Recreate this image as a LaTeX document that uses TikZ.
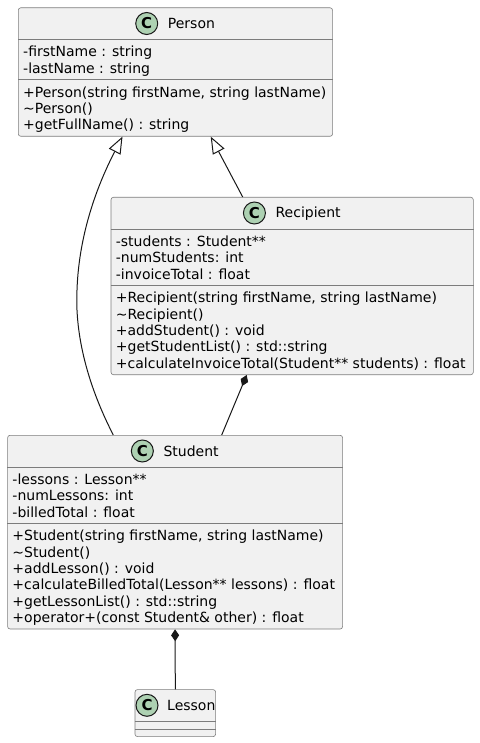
\documentclass[tikz,border=0pt]{standalone}
\usepackage{fontspec}
\setmainfont{DejaVu Sans}
\usepackage{tikz}
\usetikzlibrary{arrows.meta, positioning, calc}
\definecolor{boxfill}{HTML}{F1F1F1}
\definecolor{boxline}{HTML}{7C7C7C}
\definecolor{umlline}{HTML}{181818}
\definecolor{spotgreen}{HTML}{ADD1B2}

\begin{document}
\begin{tikzpicture}[
    x=1pt, y=-1pt,
    font=\fontsize{14}{16.3}\selectfont,
    classbox/.style={rectangle, draw=boxline, line width=0.6pt, fill=boxfill, rounded corners=2.5pt, anchor=north west, inner sep=0pt},
    divider/.style={draw=boxline, line width=0.6pt},
    member/.style={anchor=base west, inner sep=0pt},
    cname/.style={anchor=base, inner sep=0pt},
    spot/.style={circle, draw=umlline, line width=1pt, fill=spotgreen, minimum size=22pt, inner sep=0pt, font=\fontsize{15}{16}\selectfont\bfseries},
    extends/.style={-{Triangle[open, length=17pt, width=13pt]}, line width=1pt, draw=umlline},
    composed/.style={{Diamond[length=12pt, width=8pt]}-, line width=1pt, draw=umlline}
]
\useasboundingbox (0,0) rectangle (479,743);

% class boxes
\node[classbox, minimum width=314.3pt, minimum height=128.5pt] (person) at (18,7.5) {};
\node[classbox, minimum width=362.3pt, minimum height=177.4pt] (recipient) at (110.7,197) {};
\node[classbox, minimum width=335pt, minimum height=193.7pt] (student) at (7.3,435) {};
\node[classbox, minimum width=80.6pt, minimum height=47pt] (lesson) at (134.7,689.3) {};

% compartments
\draw[divider] ($(person.north west)+(0,32)$) -- ($(person.north east)+(0,32)$);
\draw[divider] ($(person.north west)+(0,72.1)$) -- ($(person.north east)+(0,72.1)$);
\draw[divider] ($(recipient.north west)+(0,32)$) -- ($(recipient.north east)+(0,32)$);
\draw[divider] ($(recipient.north west)+(0,88.4)$) -- ($(recipient.north east)+(0,88.4)$);
\draw[divider] ($(student.north west)+(0,32)$) -- ($(student.north east)+(0,32)$);
\draw[divider] ($(student.north west)+(0,88.4)$) -- ($(student.north east)+(0,88.4)$);
\draw[divider] ($(lesson.north west)+(0,32)$) -- ($(lesson.north east)+(0,32)$);
\draw[divider] ($(lesson.north west)+(0,39.5)$) -- ($(lesson.north east)+(0,39.5)$);

% headers
\node[cname] (personName) at ($(person.north)+(16,21)$) {Person};
\node[spot] (personSpot) at ($(personName.base west)+(-21,-5)$) {C};
\node[cname] (recipientName) at ($(recipient.north)+(16,21)$) {Recipient};
\node[spot] (recipientSpot) at ($(recipientName.base west)+(-21,-5)$) {C};
\node[cname] (studentName) at ($(student.north)+(16,21)$) {Student};
\node[spot] (studentSpot) at ($(studentName.base west)+(-21,-5)$) {C};
\node[cname] (lessonName) at ($(lesson.north)+(16,21)$) {Lesson};
\node[spot] (lessonSpot) at ($(lessonName.base west)+(-20,-5)$) {C};

% members
\foreach \m [count=\i] in {-firstName : string, -lastName : string}
  \node[member] (pa\i) at ($(person.north west)+(5,{49.5+16.3*(\i-1)})$) {\m};
\foreach \m [count=\i] in {{+Person(string firstName, string lastName)}, \textasciitilde Person(), +getFullName() : string}
  \node[member] (pm\i) at ($(person.north west)+(5,{89.6+16.3*(\i-1)})$) {\m};

\foreach \m [count=\i] in {-students : Student**, -numStudents: int, -invoiceTotal : float}
  \node[member] (ra\i) at ($(recipient.north west)+(5,{49.5+16.3*(\i-1)})$) {\m};
\foreach \m [count=\i] in {{+Recipient(string firstName, string lastName)}, \textasciitilde Recipient(), +addStudent() : void, +getStudentList() : std::string, +calculateInvoiceTotal(Student** students) : float}
  \node[member] (rm\i) at ($(recipient.north west)+(5,{105.9+16.3*(\i-1)})$) {\m};

\foreach \m [count=\i] in {-lessons : Lesson**, -numLessons: int, -billedTotal : float}
  \node[member] (sa\i) at ($(student.north west)+(5,{49.5+16.3*(\i-1)})$) {\m};
\foreach \m [count=\i] in {{+Student(string firstName, string lastName)}, \textasciitilde Student(), +addLesson() : void, +calculateBilledTotal(Lesson** lessons) : float, +getLessonList() : std::string, +operator+(const Student\& other) : float}
  \node[member] (sm\i) at ($(student.north west)+(5,{105.9+16.3*(\i-1)})$) {\m};

% relations
\coordinate (stuUp) at ($(student.north west)+(106,0)$);
\coordinate (perLeft) at ($(person.south west)+(104.5,0)$);
\coordinate (recUp) at ($(recipient.north west)+(132,0)$);
\coordinate (perRight) at ($(person.south west)+(192.7,0)$);
\coordinate (recDown) at ($(recipient.south west)+(136,0)$);
\coordinate (stuRight) at ($(student.north west)+(214.4,0)$);

\draw[extends] (stuUp) .. controls (85,380) and (75,330) .. (77,290) .. controls (79,230) and (100,180) .. (perLeft);
\draw[extends] (recUp) -- (perRight);
\draw[composed] (recDown) -- (stuRight);
\draw[composed] (student.south) -- (lesson.north);

\end{tikzpicture}
\end{document}
